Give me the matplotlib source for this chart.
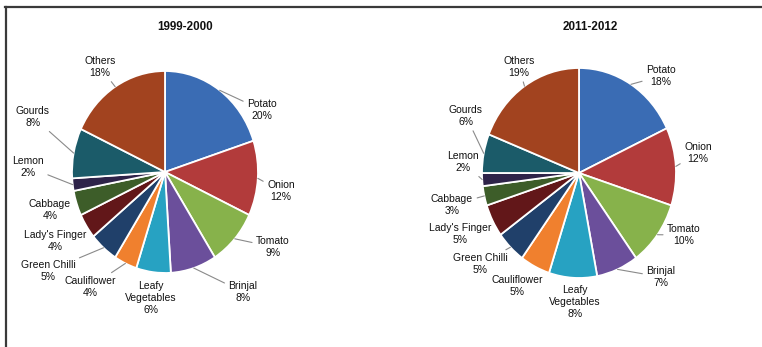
import numpy as np
import matplotlib
matplotlib.use("Agg")
import matplotlib.pyplot as plt
from matplotlib.lines import Line2D

plt.rcParams["font.family"] = ["Liberation Sans", "DejaVu Sans"]

W, H = 762, 347

crops = ["Potato", "Onion", "Tomato", "Brinjal", "Leafy\nVegetables", "Cauliflower",
         "Green Chilli", "Lady's Finger", "Cabbage", "Lemon", "Gourds", "Others"]
share_1999 = [20, 12, 9, 8, 6, 4, 5, 4, 4, 2, 8, 18]
share_2011 = [18, 12, 10, 7, 8, 5, 5, 5, 3, 2, 6, 19]
titles = ["1999-2000", "2011-2012"]

colors = ["#3a6cb4", "#b23b3b", "#87b24b", "#6b4f9b", "#27a2c2", "#f0802e",
          "#20406a", "#621719", "#3d5d29", "#2e2349", "#1b5b69", "#a2431f"]

# pie centre / radii in pixels (the source is slightly stretched vertically)
pies = [dict(cx=165, cy=172, rx=93, ry=101, title_xy=(185, 27)),
        dict(cx=579, cy=173, rx=97, ry=105, title_xy=(590, 27))]

# label centres in pixels, same order as crops
label_xy = [
    [(262, 110), (281, 191), (273, 247), (243, 292), (151, 298), (90, 287),
     (48, 271), (55, 241), (50, 210), (28, 167), (33, 117), (100, 67)],
    [(661, 76), (698, 153), (684, 235), (661, 277), (575, 302), (517, 286),
     (480, 264), (460, 234), (452, 205), (463, 162), (466, 116), (519, 67)],
]
leader = [
    [1, 1, 1, 1, 0, 1, 1, 0, 0, 1, 1, 1],
    [1, 1, 1, 1, 0, 0, 1, 0, 1, 1, 1, 1],
]

fig = plt.figure(figsize=(W / 100, H / 100), dpi=100)
fig.patch.set_facecolor("white")


def fig_frac(x, y):
    return x / W, 1 - y / H


for k, (shares, p) in enumerate(zip([share_1999, share_2011], pies)):
    ax = fig.add_axes([(p["cx"] - p["rx"]) / W, (H - p["cy"] - p["ry"]) / H,
                       2 * p["rx"] / W, 2 * p["ry"] / H])
    wedges, _ = ax.pie(shares, colors=colors, startangle=90, counterclock=False,
                       radius=1, wedgeprops=dict(edgecolor="white", linewidth=1.3))
    ax.set_aspect("auto")
    ax.set_xlim(-1, 1)
    ax.set_ylim(-1, 1)
    ax.axis("off")

    for i, (w, name, val) in enumerate(zip(wedges, crops, shares)):
        ang = np.deg2rad((w.theta1 + w.theta2) / 2)
        edge = (np.cos(ang), np.sin(ang))
        tx, ty = label_xy[k][i]
        arrow = None
        if leader[k][i]:
            arrow = dict(arrowstyle="-", color="#8a8a8a", lw=0.8,
                         shrinkA=1, shrinkB=0)
        ax.annotate(f"{name}\n{val}%", xy=edge, xycoords="data",
                    xytext=fig_frac(tx, ty), textcoords="figure fraction",
                    ha="center", va="center", fontsize=7.5, color="#111111",
                    linespacing=1.2, arrowprops=arrow, annotation_clip=False)

    fig.text(*fig_frac(*p["title_xy"]), titles[k], ha="center", va="center",
             fontsize=8.4, fontweight="bold", color="#111111")

# outer frame (top and left edges)
fig.add_artist(Line2D([5 / W, 1], [1 - 7 / H, 1 - 7 / H], transform=fig.transFigure,
                      color="#3a3a3a", lw=1.6))
fig.add_artist(Line2D([6 / W, 6 / W], [1 - 7 / H, 0], transform=fig.transFigure,
                      color="#3a3a3a", lw=1.6))

fig.savefig("out.png", dpi=100, facecolor="white")
